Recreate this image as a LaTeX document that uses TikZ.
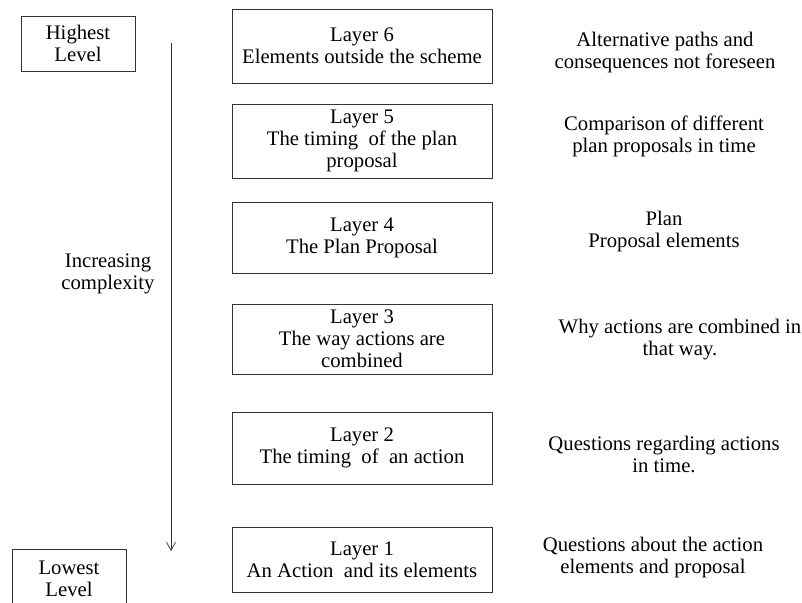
\documentclass[tikz,border=0pt]{standalone}
\usepackage{fontspec}
\setmainfont{Liberation Serif}
\usetikzlibrary{arrows.meta}

\begin{document}
\begin{tikzpicture}[
    x=1pt, y=-1pt,
    txt/.style={
        align=center,
        font=\fontsize{20.7}{22}\selectfont
    },
    layerbox/.style={
        txt,
        draw=black!80,
        line width=0.8pt,
        rectangle,
        inner sep=0pt,
        minimum width=260pt
    },
    levelbox/.style={
        txt,
        draw=black!80,
        line width=0.8pt,
        rectangle,
        inner sep=0pt,
        minimum width=114pt
    },
    arrow/.style={
        -{Straight Barb[length=8pt,width=9pt]},
        line width=0.7pt,
        draw=black!80
    }
]
\useasboundingbox (0,0) rectangle (802,602);

% Left column: levels and the complexity arrow
\node[levelbox, minimum height=55pt] at (78,43.5) (high) {Highest\\Level};
\node[levelbox, minimum height=60pt] at (69,579)  (low)  {Lowest\\Level};
\coordinate (top) at (171,43);
\coordinate (bot) at (171,551);
\draw[arrow] (top) -- (bot);
\node[txt] at (108,274) (incr) {Increasing\\complexity};

% Middle column: the layers
\node[layerbox, minimum height=74pt] at (362,46)    (l6) {Layer 6\\Elements outside the scheme};
\node[layerbox, minimum height=74pt] at (362,141)   (l5) {Layer 5\\The timing \ of the plan\\proposal};
\node[layerbox, minimum height=71pt] at (362,237.5) (l4) {Layer 4\\The Plan Proposal};
\node[layerbox, minimum height=70pt] at (362,339)   (l3) {Layer 3\\The way actions are\\combined};
\node[layerbox, minimum height=72pt] at (362,448)   (l2) {Layer 2\\The timing \ of \ an action};
\node[layerbox, minimum height=65pt] at (362,559.5) (l1) {Layer 1\\An Action \ and its elements};

% Right column: questions per layer
\node[txt] at (665,53)  (q6) {Alternative paths and\\consequences not foreseen};
\node[txt] at (664,136) (q5) {Comparison of different\\plan proposals in time};
\node[txt] at (664,232) (q4) {Plan\\Proposal elements};
\node[txt] at (680,340) (q3) {Why actions are combined in\\that way.};
\node[txt] at (664,454) (q2) {Questions regarding actions\\in time.};
\node[txt] at (653,558) (q1) {Questions about the action\\elements and proposal};

\end{tikzpicture}
\end{document}
